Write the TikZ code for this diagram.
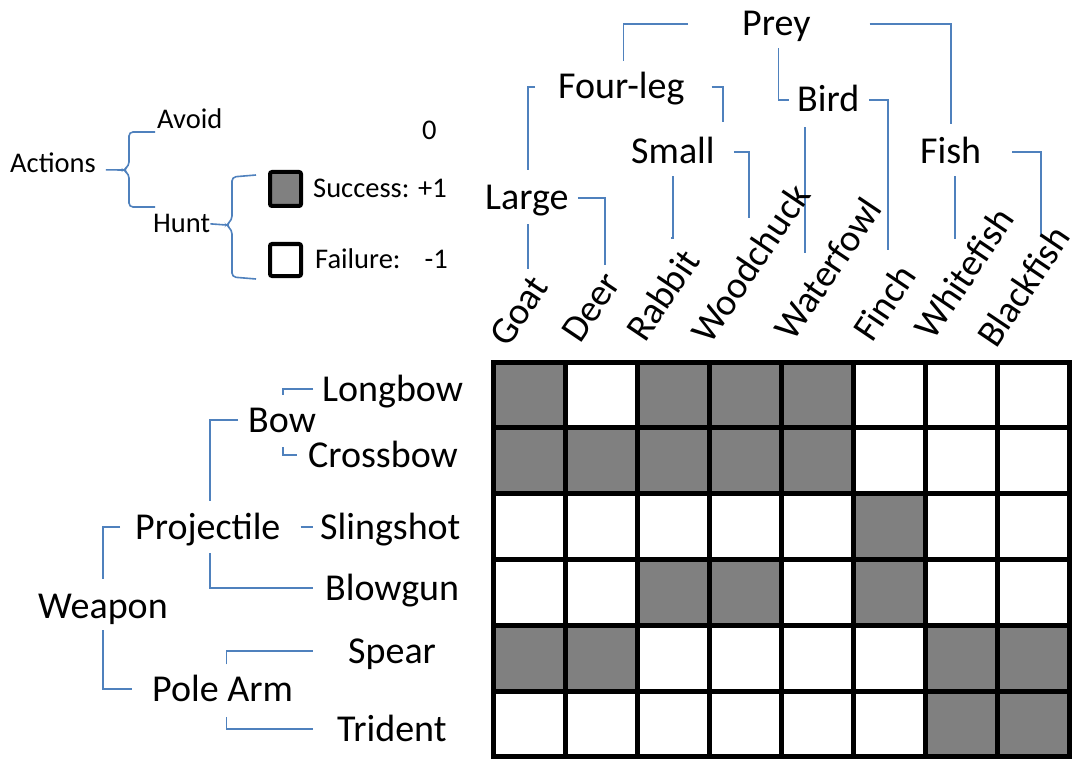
\documentclass[tikz,border=0pt]{standalone}
\usepackage{fontspec}
\setmainfont{Carlito}
\definecolor{conblue}{RGB}{79,129,189}
\begin{document}
\begin{tikzpicture}[x=1pt,y=-1pt,
  con/.style={draw=conblue, line width=1.6pt},
  big/.style={font=\fontsize{38}{45}\selectfont, inner sep=0pt, text height=24.5pt, text depth=0pt, anchor=base west},
  sml/.style={font=\fontsize{28.5}{34}\selectfont, inner sep=0pt, text height=18.3pt, text depth=0pt, anchor=base west},
  rot/.style={font=\fontsize{38}{45}\selectfont, inner sep=0pt, anchor=base west, rotate=56},
  cell/.style={draw=black, line width=5pt, minimum width=72pt, minimum height=65.8pt, inner sep=0pt},
  leg/.style={draw=black, line width=4pt, rounded corners=2pt, minimum width=31pt, inner sep=0pt}
]
\useasboundingbox (0,0) rectangle (1075,759);
\fill[white] (0,0) rectangle (1075,759);

% ---- legend ----
\node[sml] (actions) at (10,173) {Actions};
\node[sml] (avoid) at (157,129) {Avoid};
\node[sml] (hunt) at (153,233) {Hunt};
\node[sml] (zero) at (422,140) {0};
\node[leg, fill=gray, minimum height=34pt] (succbox) at (285.5,189) {};
\node[leg, fill=white, minimum height=32pt] (failbox) at (285.5,260) {};
\node[sml] (success) at (313,198) {Success: +1};
\node[sml] (failure) at (315,268) {Failure:\hspace{24pt}-1};

\coordinate (aTip) at (123,170);
\draw[con] ([shift={(10pt,-6pt)}]actions.east) -- (aTip);
\draw[con, rounded corners=4pt] ([shift={(-2pt,-3pt)}]avoid.base west) -- (129,132) -- (129,166) -- (aTip) -- (129,174) -- (129,207) -- ([shift={(2pt,26pt)}]hunt.base west);
\coordinate (hTip) at (226,225);
\draw[con] (hunt.east) -- (hTip);
\draw[con, rounded corners=4pt] ([shift={(-12pt,-5pt)}]succbox.north west) -- (232,177) -- (232,220) -- (hTip) -- (232,230) -- (232,277) -- ([shift={(-12pt,-1pt)}]failbox.south west);

% ---- prey tree ----
\node[big] (prey) at (742,36) {Prey};
\node[big] (fourleg) at (558,99) {Four-leg};
\node[big] (bird) at (797,112) {Bird};
\node[big] (small) at (631,164) {Small};
\node[big] (fish) at (920,164) {Fish};
\node[big] (large) at (485,210) {Large};

\coordinate (tGoat) at (528,268);
\coordinate (tDeer) at (605,265);
\coordinate (tRabbit) at (671,238);
\coordinate (tWood) at (749,218);
\coordinate (tWater) at (805,253);
\coordinate (tFinch) at (888,250);
\coordinate (tWhite) at (955,238);
\coordinate (tBlack) at (1041,237);

\draw[con] ([xshift=-54pt]prey.west) -| ([shift={(2pt,13pt)}]fourleg.north);
\draw[con] ([xshift=59pt]prey.east) -| ([yshift=15pt]fish.north);
\draw[con] ([shift={(2pt,-12pt)}]prey.south) |- ([xshift=-8pt]bird.west);
\draw[con] ([xshift=-23pt]fourleg.west) -| ([shift={(1pt,15pt)}]large.north);
\draw[con] ([xshift=27pt]fourleg.east) -| ([shift={(8pt,17pt)}]small.north east);
\draw[con] ([yshift=-12pt]small.south) |- (tRabbit);
\draw[con] ([xshift=19pt]small.east) -| (tWood);
\draw[con] ([shift={(8pt,-15pt)}]bird.south west) |- (tWater);
\draw[con] ([xshift=10pt]bird.east) -| (tFinch);
\draw[con] ([shift={(4pt,-12pt)}]fish.south) |- (tWhite);
\draw[con] ([xshift=31pt]fish.east) -| (tBlack);
\draw[con] ([shift={(1pt,-14pt)}]large.south) |- (tGoat);
\draw[con] ([xshift=9pt]large.east) -| (tDeer);

\node[rot] (goat) at (508,349) {Goat};
\node[rot] (deer) at (580,345) {Deer};
\node[rot] (rabbit) at (645,344) {Rabbit};
\node[rot] (woodchuck) at (710,346) {Woodchuck};
\node[rot] (waterfowl) at (793,343) {Waterfowl};
\node[rot] (finch) at (872,344) {Finch};
\node[rot] (whitefish) at (933,342) {Whitefish};
\node[rot] (blackfish) at (996,350) {Blackfish};

% ---- weapon tree ----
\node[big] (longbow) at (322,401) {Longbow};
\node[big] (bow) at (248,432) {Bow};
\node[big] (crossbow) at (308,467) {Crossbow};
\node[big] (projectile) at (135,539) {Projectile};
\node[big] (slingshot) at (320,539) {Slingshot};
\node[big] (blowgun) at (325,600) {Blowgun};
\node[big] (weapon) at (38,618) {Weapon};
\node[big] (polearm) at (152,701) {Pole Arm};
\node[big] (spear) at (348,663) {Spear};
\node[big] (trident) at (337,741) {Trident};

\coordinate (cLong) at (283,395);
\coordinate (cCross) at (283,447);
\draw[con] ([xshift=-9pt]longbow.west) -| (cLong);
\draw[con] (cCross) |- ([xshift=-11pt]crossbow.west);
\draw[con] ([xshift=-10pt]bow.west) -| ([shift={(2pt,13pt)}]projectile.north);
\draw[con] ([xshift=20pt]projectile.east) -- ([xshift=-7pt]slingshot.west);
\draw[con] ([shift={(2pt,-14pt)}]projectile.south) |- ([xshift=-12pt]blowgun.west);
\draw[con] ([xshift=-15pt]projectile.west) -| ([yshift=14pt]weapon.north);
\draw[con] ([yshift=-12pt]weapon.south) |- ([xshift=-20pt]polearm.west);
\draw[con] ([shift={(4pt,12pt)}]polearm.north) |- ([xshift=-35pt]spear.west);
\draw[con] ([shift={(4pt,-16pt)}]polearm.south) |- ([xshift=-24pt]trident.west);

% ---- grid ----
\foreach \r/\row in {1/{1,0,1,1,1,0,0,0},2/{1,1,1,1,1,0,0,0},3/{0,0,0,0,0,1,0,0},4/{0,0,1,1,0,1,0,0},5/{1,1,0,0,0,0,1,1},6/{0,0,0,0,0,0,1,1}}
  \foreach \v [count=\c] in \row {
    \ifnum\v=1 \def\fc{gray}\else\def\fc{white}\fi
    \node[cell, fill=\fc] (cell-\r-\c) at ({493+72*(\c-0.5)}, {362+65.8*(\r-0.5)}) {};
  }
\end{tikzpicture}
\end{document}
